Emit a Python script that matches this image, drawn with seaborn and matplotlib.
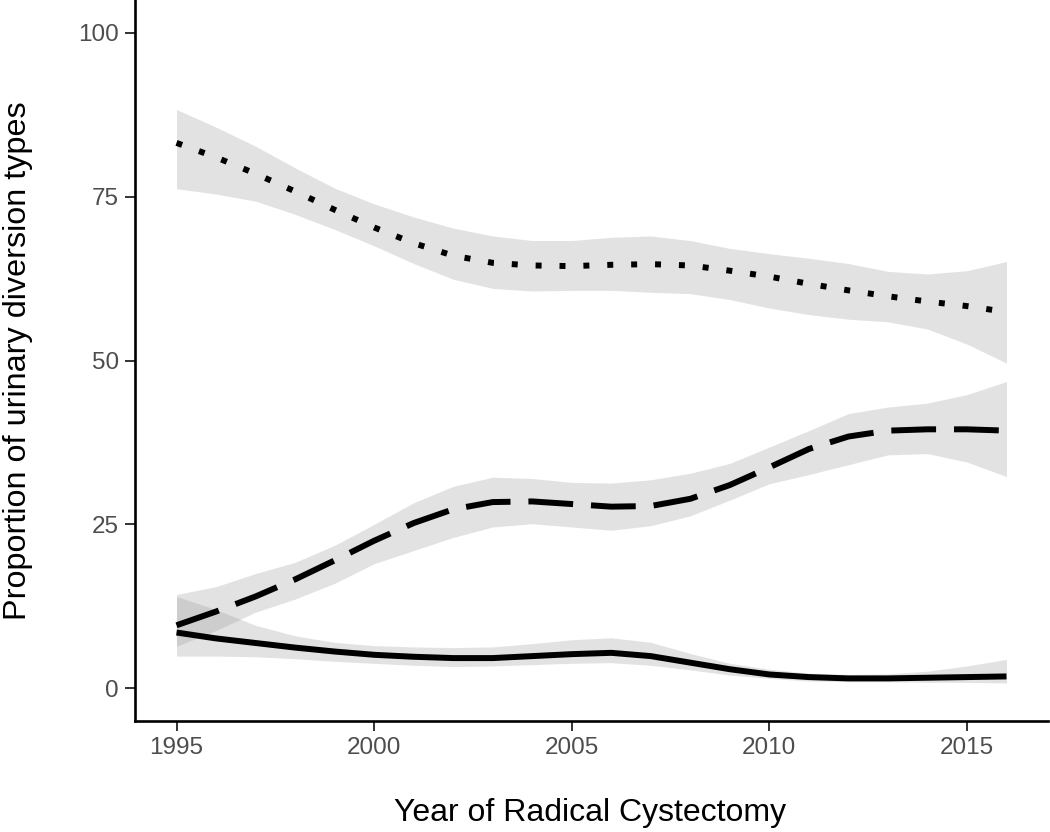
import numpy as np
import pandas as pd
import matplotlib
matplotlib.use("Agg")
import matplotlib.pyplot as plt
import seaborn as sns

years = list(range(1995, 2017))

# Dotted series
dotted_fit = [83.2, 81.0, 78.5, 75.8, 73.0, 70.3, 67.9, 66.0, 64.9, 64.5, 64.4,
              64.6, 64.7, 64.5, 63.7, 62.8, 61.7, 60.7, 59.8, 59.0, 58.3, 57.4]
dotted_hi = [88.3, 85.6, 82.7, 79.4, 76.3, 73.9, 71.9, 70.2, 69.0, 68.3, 68.3,
             68.8, 69.0, 68.3, 67.1, 66.3, 65.6, 64.8, 63.6, 63.2, 63.7, 65.1]
dotted_lo = [76.2, 75.4, 74.3, 72.3, 70.0, 67.5, 64.8, 62.4, 61.0, 60.6, 60.7,
             60.7, 60.4, 60.2, 59.3, 58.0, 57.0, 56.3, 55.9, 54.8, 52.5, 49.6]

# Dashed series
dashed_fit = [9.6, 11.7, 14.0, 16.6, 19.5, 22.5, 25.2, 27.3, 28.4, 28.5, 28.1,
              27.7, 27.8, 28.9, 31.0, 33.7, 36.5, 38.4, 39.3, 39.5, 39.5, 39.3]
dashed_hi = [14.3, 15.5, 17.5, 19.2, 21.8, 25.0, 28.3, 30.8, 32.2, 32.0, 31.4,
             31.3, 31.8, 32.8, 34.3, 36.8, 39.3, 41.9, 42.9, 43.5, 44.8, 46.8]
dashed_lo = [6.4, 8.8, 11.6, 13.6, 16.0, 19.0, 21.0, 23.0, 24.6, 25.1, 24.6,
             24.1, 24.8, 26.3, 28.7, 31.2, 32.6, 34.1, 35.6, 35.8, 34.5, 32.3]

# Solid series
solid_fit = [8.5, 7.6, 6.9, 6.2, 5.6, 5.1, 4.8, 4.6, 4.6, 4.9, 5.2,
             5.4, 4.9, 3.9, 2.9, 2.1, 1.7, 1.5, 1.5, 1.6, 1.7, 1.8]
solid_hi = [14.0, 12.0, 9.6, 8.0, 7.0, 6.5, 6.3, 6.2, 6.3, 6.8, 7.4,
            7.7, 7.0, 5.3, 3.8, 2.9, 2.3, 2.1, 2.2, 2.6, 3.4, 4.4]
solid_lo = [4.9, 4.9, 4.8, 4.5, 4.1, 3.8, 3.5, 3.3, 3.4, 3.6, 3.8,
            3.9, 3.5, 2.8, 2.0, 1.5, 1.1, 1.0, 1.0, 0.9, 0.9, 0.8]

series_names = ["Type A", "Type B", "Type C"]
x_ticks = [1995, 2000, 2005, 2010, 2015]
y_ticks = [0, 25, 50, 75, 100]
x_title = "Year of Radical Cystectomy"
y_title = "Proportion of urinary diversion types"

df = pd.concat([
    pd.DataFrame({"year": years, "value": dotted_fit, "lo": dotted_lo, "hi": dotted_hi, "type": series_names[0]}),
    pd.DataFrame({"year": years, "value": dashed_fit, "lo": dashed_lo, "hi": dashed_hi, "type": series_names[1]}),
    pd.DataFrame({"year": years, "value": solid_fit, "lo": solid_lo, "hi": solid_hi, "type": series_names[2]}),
], ignore_index=True)

sns.set_theme(style="ticks")
plt.rcParams["font.family"] = ["Liberation Sans", "DejaVu Sans"]

fig = plt.figure(figsize=(10.5, 8.32), dpi=100)
ax = fig.add_axes([135 / 1050, 1 - 721 / 832, 913 / 1050, 721 / 832])

for name in series_names:
    sub = df[df["type"] == name]
    ax.fill_between(sub["year"], sub["lo"], sub["hi"], color="#999999", alpha=0.28,
                    linewidth=0, zorder=1)

sns.lineplot(data=df, x="year", y="value", style="type", style_order=series_names,
             dashes={series_names[0]: (1, 3), series_names[1]: (7.5, 3.0), series_names[2]: ""},
             color="black", linewidth=4.3, legend=False, ax=ax, zorder=3,
             estimator=None, sort=True)
for line in ax.lines:
    line.set_solid_capstyle("butt")
    line.set_dash_capstyle("butt")
    line.set_solid_joinstyle("round")

ax.set_xlim(1993.95, 2017.05)
ax.set_ylim(-5, 105)
ax.set_xticks(x_ticks)
ax.set_yticks(y_ticks)
ax.tick_params(axis="both", labelsize=17.5, labelcolor="#4D4D4D", color="#333333",
               length=7, width=1.4, pad=4.5)
for s in ["top", "right"]:
    ax.spines[s].set_visible(False)
for s in ["left", "bottom"]:
    ax.spines[s].set_linewidth(1.9)
    ax.spines[s].set_color("black")

ax.set_xlabel(x_title, fontsize=23, color="black")
ax.set_ylabel(y_title, fontsize=23.3, color="black")
ax.xaxis.set_label_coords(0.498, (721 - 798) / 721)
ax.yaxis.set_label_coords((33 - 135) / 913, 0.5)
ax.grid(False)
ax.set_facecolor("white")

fig.savefig("out.png", dpi=100, facecolor="white")
